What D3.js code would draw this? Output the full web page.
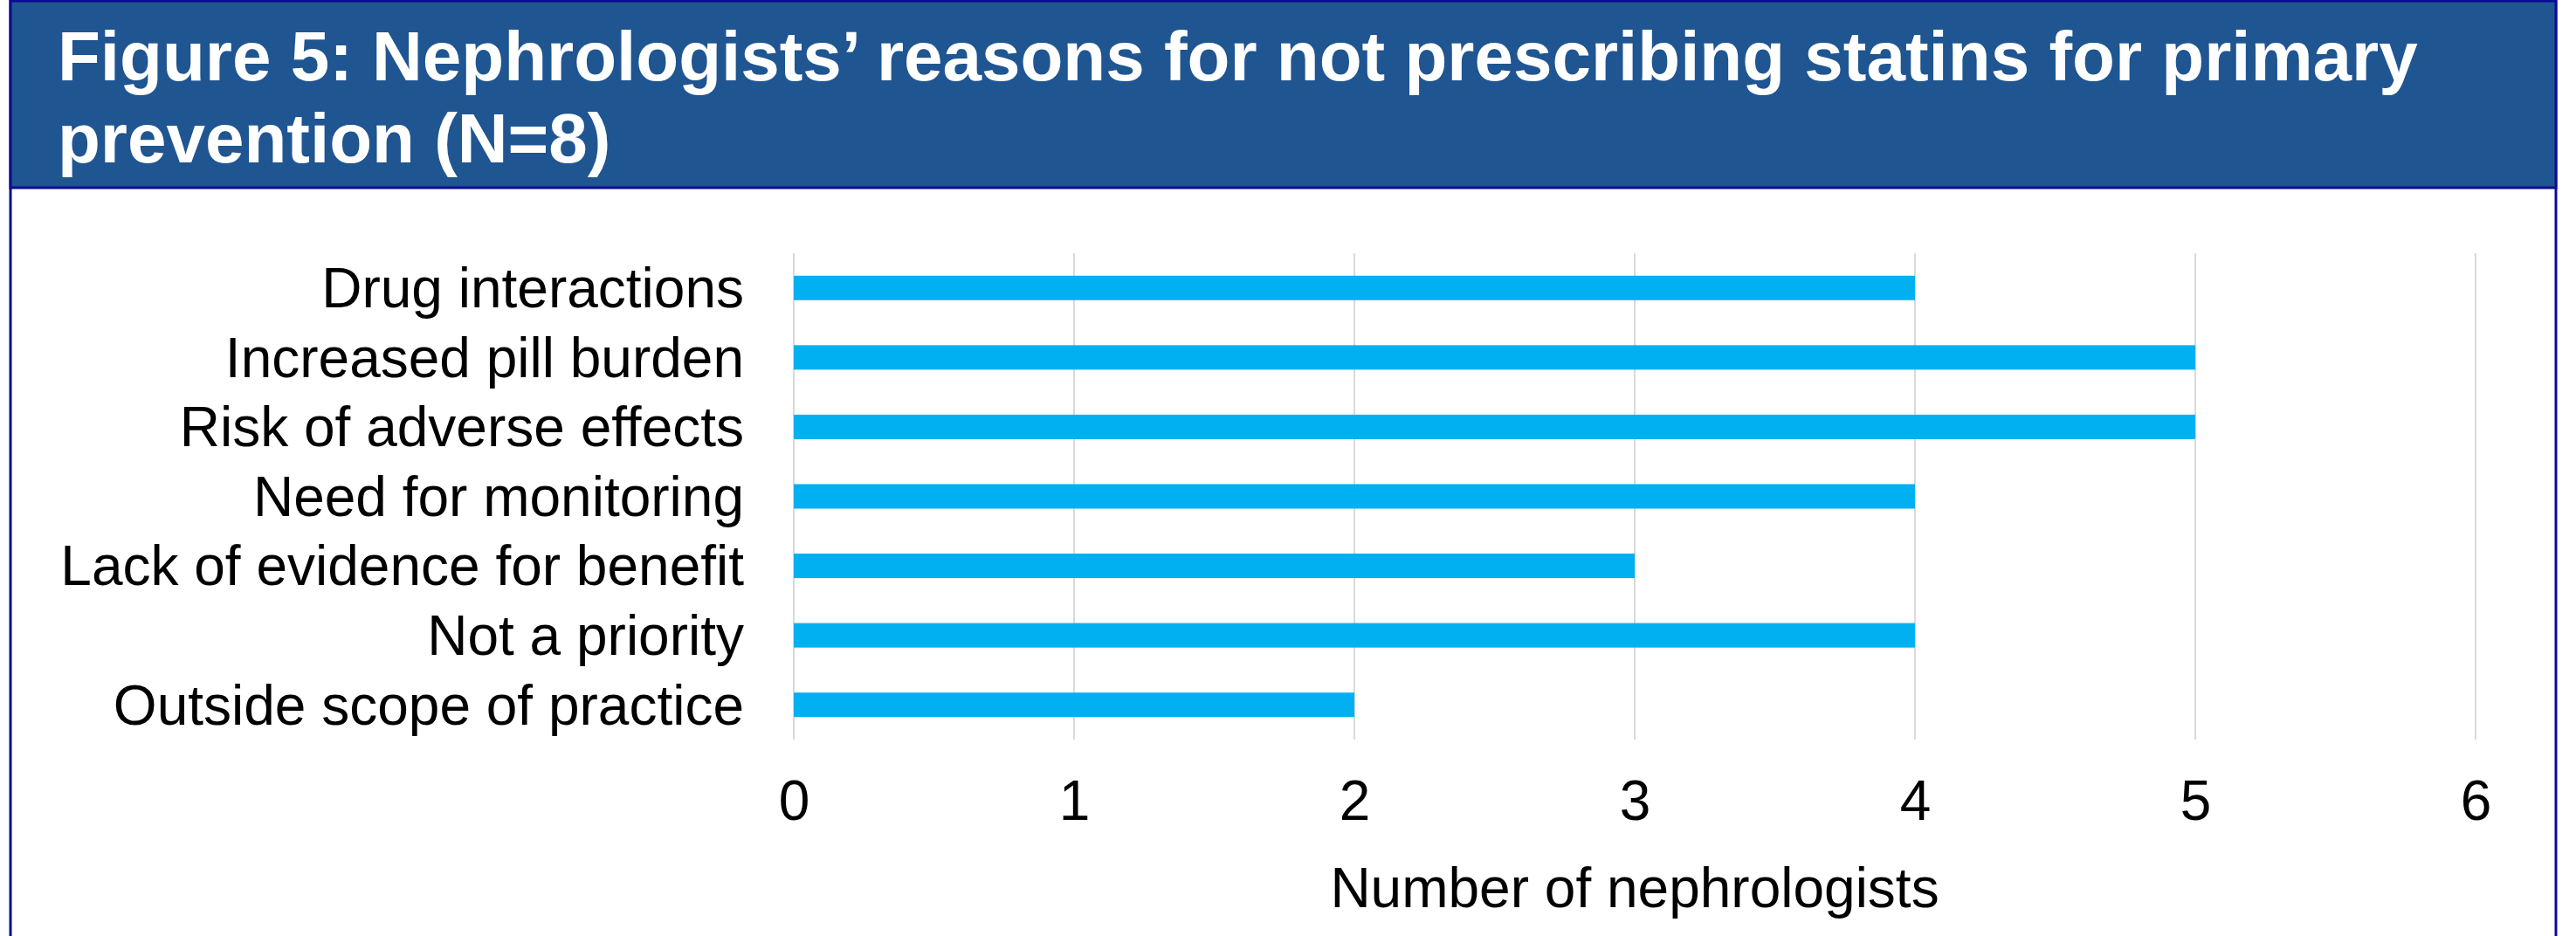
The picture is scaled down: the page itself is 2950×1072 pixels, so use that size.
<!DOCTYPE html>
<html>
<head>
<meta charset="utf-8">
<script src="https://cdn.jsdelivr.net/npm/d3@7"></script>
<style>
  html, body { margin: 0; padding: 0; background: #fff; }
  svg { display: block; font-family: "Liberation Sans", Arial, sans-serif; }
</style>
</head>
<body>
<svg id="chart" width="2950" height="1072"></svg>
<script>
"use strict";

// data
const categories = [
  "Drug interactions",
  "Increased pill burden",
  "Risk of adverse effects",
  "Need for monitoring",
  "Lack of evidence for benefit",
  "Not a priority",
  "Outside scope of practice"
];
const counts = [4, 5, 5, 4, 3, 4, 2];
const xTicks = [0, 1, 2, 3, 4, 5, 6];
const titleLines = [
  "Figure 5: Nephrologists\u2019 reasons for not prescribing statins for primary",
  "prevention (N=8)"
];
const axisTitle = "Number of nephrologists";

const W = 2950, H = 1072;
const frame = {left: 12, right: 2927, bandBottom: 215};
const plot = {left: 909, right: 2835, top: 290, bottom: 847};
const colors = {
  band: "#1F5591",
  border: "#0B0B96",
  bar: "#00B0F0",
  grid: "#D9D9D9",
  text: "#000"
};

const svg = d3.select("#chart");

// white panel with blue frame
svg.append("rect")
  .attr("x", frame.left).attr("y", 0)
  .attr("width", frame.right - frame.left).attr("height", H + 10)
  .attr("fill", "#fff")
  .attr("stroke", colors.border).attr("stroke-width", 3);

// title band
svg.append("rect")
  .attr("x", frame.left).attr("y", 1)
  .attr("width", frame.right - frame.left).attr("height", frame.bandBottom - 1)
  .attr("fill", colors.band)
  .attr("stroke", colors.border).attr("stroke-width", 3);

svg.append("g").classed("title", true)
  .selectAll("text")
  .data(titleLines).enter()
  .append("text")
    .attr("x", 66)
    .attr("y", (d, i) => 92 + i * 94)
    .attr("fill", "#fff")
    .attr("font-weight", "bold")
    .attr("font-size", 80)
    .text(d => d);

// scales
const x = d3.scaleLinear().domain([0, 6]).range([plot.left, plot.right]);
const y = d3.scaleBand()
  .domain(categories)
  .range([plot.top, plot.bottom])
  .paddingInner(0.648)
  .paddingOuter(0.324);

// vertical gridlines
svg.append("g").classed("grid", true)
  .selectAll("line")
  .data(xTicks).enter()
  .append("line")
    .attr("x1", d => x(d)).attr("x2", d => x(d))
    .attr("y1", plot.top).attr("y2", plot.bottom)
    .attr("stroke", colors.grid)
    .attr("stroke-width", 2);

// bars
svg.append("g").classed("bars", true)
  .selectAll("rect")
  .data(counts).enter()
  .append("rect")
    .attr("x", x(0))
    .attr("y", (d, i) => y(categories[i]))
    .attr("width", d => x(d) - x(0))
    .attr("height", y.bandwidth())
    .attr("fill", colors.bar);

// category labels (axis without domain/ticks)
const axisY = svg.append("g")
  .attr("transform", "translate(" + (plot.left - 57) + ",0)")
  .call(d3.axisLeft(y).tickSize(0).tickPadding(0));
axisY.select(".domain").remove();
axisY.selectAll("text")
  .attr("font-size", 64)
  .attr("font-family", "Liberation Sans, Arial, sans-serif")
  .attr("fill", colors.text)
  .attr("dy", "0.35em");

// x tick labels
const axisX = svg.append("g")
  .attr("transform", "translate(0," + plot.bottom + ")")
  .call(d3.axisBottom(x).tickValues(xTicks).tickFormat(d3.format("d")).tickSize(0).tickPadding(0));
axisX.select(".domain").remove();
axisX.selectAll("text")
  .attr("font-size", 64)
  .attr("font-family", "Liberation Sans, Arial, sans-serif")
  .attr("fill", colors.text)
  .attr("dy", null)
  .attr("y", 92);

// axis title
svg.append("text")
  .attr("x", (plot.left + plot.right) / 2)
  .attr("y", 1039)
  .attr("text-anchor", "middle")
  .attr("font-size", 64)
  .attr("fill", colors.text)
  .text(axisTitle);
</script>
</body>
</html>
